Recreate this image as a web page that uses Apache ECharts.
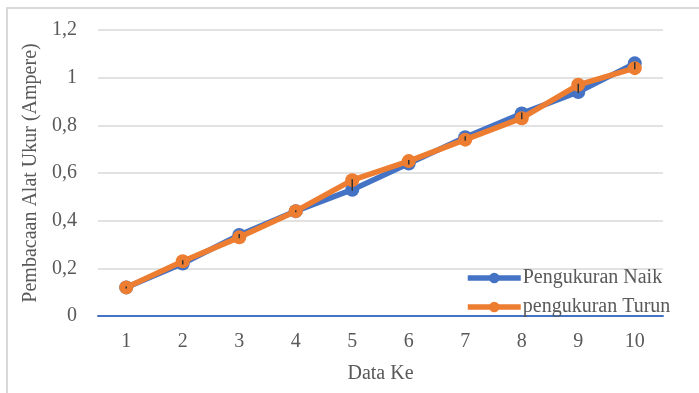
<!DOCTYPE html>
<html>
<head>
<meta charset="utf-8">
<script src="https://cdn.jsdelivr.net/npm/echarts@6/dist/echarts.min.js"></script>
<style>html,body{margin:0;padding:0;background:#fff;}#c{width:699px;height:393px;}</style>
</head>
<body>
<div id="c"></div>
<script>
const categories = ['1','2','3','4','5','6','7','8','9','10'];
const naik = [0.12, 0.22, 0.34, 0.44, 0.53, 0.64, 0.75, 0.85, 0.94, 1.06];
const turun = [0.12, 0.23, 0.33, 0.44, 0.57, 0.65, 0.74, 0.83, 0.97, 1.04];
const yTicks = [0, 0.2, 0.4, 0.6, 0.8, 1, 1.2];
const seriesNames = ['Pengukuran Naik', 'pengukuran Turun'];

const FONT = '"Liberation Serif", "Times New Roman", serif';
const FS = 20;
const errData = categories.map((c, i) => [i, Math.min(naik[i], turun[i]), Math.max(naik[i], turun[i])]);

const chart = echarts.init(document.getElementById('c'), null, {renderer: 'canvas'});
chart.setOption({
  animation: false,
  backgroundColor: '#fff',
  graphic: [{
    type: 'rect', silent: true, z: -10,
    shape: {x: 7, y: 8, width: 720, height: 420},
    style: {fill: 'none', stroke: '#d9d9d9', lineWidth: 2}
  }],
  grid: {left: 98, right: 36, top: 30, bottom: 77, containLabel: false},
  legend: {
    orient: 'vertical', left: 460, top: 263, itemWidth: 53, itemHeight: 13, itemGap: 9,
    data: seriesNames,
    lineStyle: {width: 5.5},
    textStyle: {fontFamily: FONT, fontSize: FS, color: '#595959', padding: [0,0,0,-3]}
  },
  xAxis: {
    type: 'category', data: categories, boundaryGap: true,
    name: 'Data Ke', nameLocation: 'middle', nameGap: 48,
    nameTextStyle: {fontFamily: FONT, fontSize: FS, color: '#595959'},
    axisLine: {lineStyle: {color: '#4472C4', width: 2}},
    axisTick: {show: false},
    axisLabel: {fontFamily: FONT, fontSize: FS, color: '#595959', margin: 16}
  },
  yAxis: {
    type: 'value', min: 0, max: 1.2, interval: 0.2,
    name: 'Pembacaan Alat Ukur (Ampere)', nameLocation: 'middle', nameGap: 56,
    nameTextStyle: {fontFamily: FONT, fontSize: FS, color: '#595959'},
    axisLine: {show: false}, axisTick: {show: false},
    splitLine: {lineStyle: {color: '#d9d9d9', width: 1.5}},
    axisLabel: {fontFamily: FONT, fontSize: FS, color: '#595959', margin: 21,
      formatter: v => { const t = yTicks.find(k => Math.abs(k - v) < 1e-9); return String(t !== undefined ? t : v).replace('.', ','); }}
  },
  series: [
    {name: seriesNames[0], type: 'line', data: naik, symbol: 'circle', symbolSize: 14,
     lineStyle: {color: '#4472C4', width: 5.5}, itemStyle: {color: '#4472C4'}, z: 2},
    {name: seriesNames[1], type: 'line', data: turun, symbol: 'circle', symbolSize: 14,
     lineStyle: {color: '#ED7D31', width: 5.5}, itemStyle: {color: '#ED7D31'}, z: 3},
    {type: 'custom', data: errData, z: 5, silent: true,
     renderItem: (params, api) => {
       const a = api.coord([api.value(0), api.value(1)]);
       const b = api.coord([api.value(0), api.value(2)]);
       return {type: 'line', shape: {x1: a[0], y1: a[1] + 1, x2: b[0], y2: b[1] - 1},
               style: {stroke: '#333', lineWidth: 1.5}};
     }}
  ]
});
</script>
</body>
</html>
